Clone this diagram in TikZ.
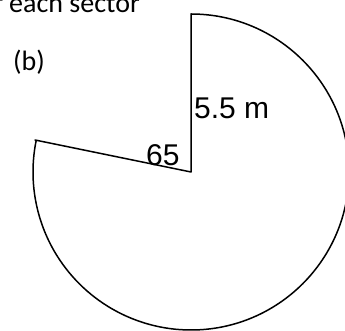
\documentclass[tikz,border=0pt]{standalone}
\usepackage{fontspec}
\setmainfont{Carlito}
\newfontfamily\arialfont{Liberation Sans}
\begin{document}
\begin{tikzpicture}[x=1pt, y=1pt,
    edge/.style={draw, line width=1.5pt, line join=round},
    dimlabel/.style={font=\arialfont\fontsize{30}{30}\selectfont, inner sep=0pt},
    textlabel/.style={font=\fontsize{28}{28}\selectfont, inner sep=0pt}
]
\useasboundingbox[clip] (0,0) rectangle (345,331);

% Sector
\coordinate (centre) at (191,159);
\coordinate (top) at (191,317);
\coordinate (left) at (35,191);
\draw[edge] (left) -- (centre) -- (top) arc[start angle=90, end angle=-191.6, radius=158] -- cycle;

% Labels
\node[textlabel, anchor=base east] (title) at (140,318) {f each sector};
\node[textlabel, anchor=base west] (part) at (13,260) {(b)};
\node[dimlabel, anchor=base west] (radius) at (194,212) {5.5 m};
\node[dimlabel, anchor=base west] (angle) at (146,165) {65};

\end{tikzpicture}
\end{document}
